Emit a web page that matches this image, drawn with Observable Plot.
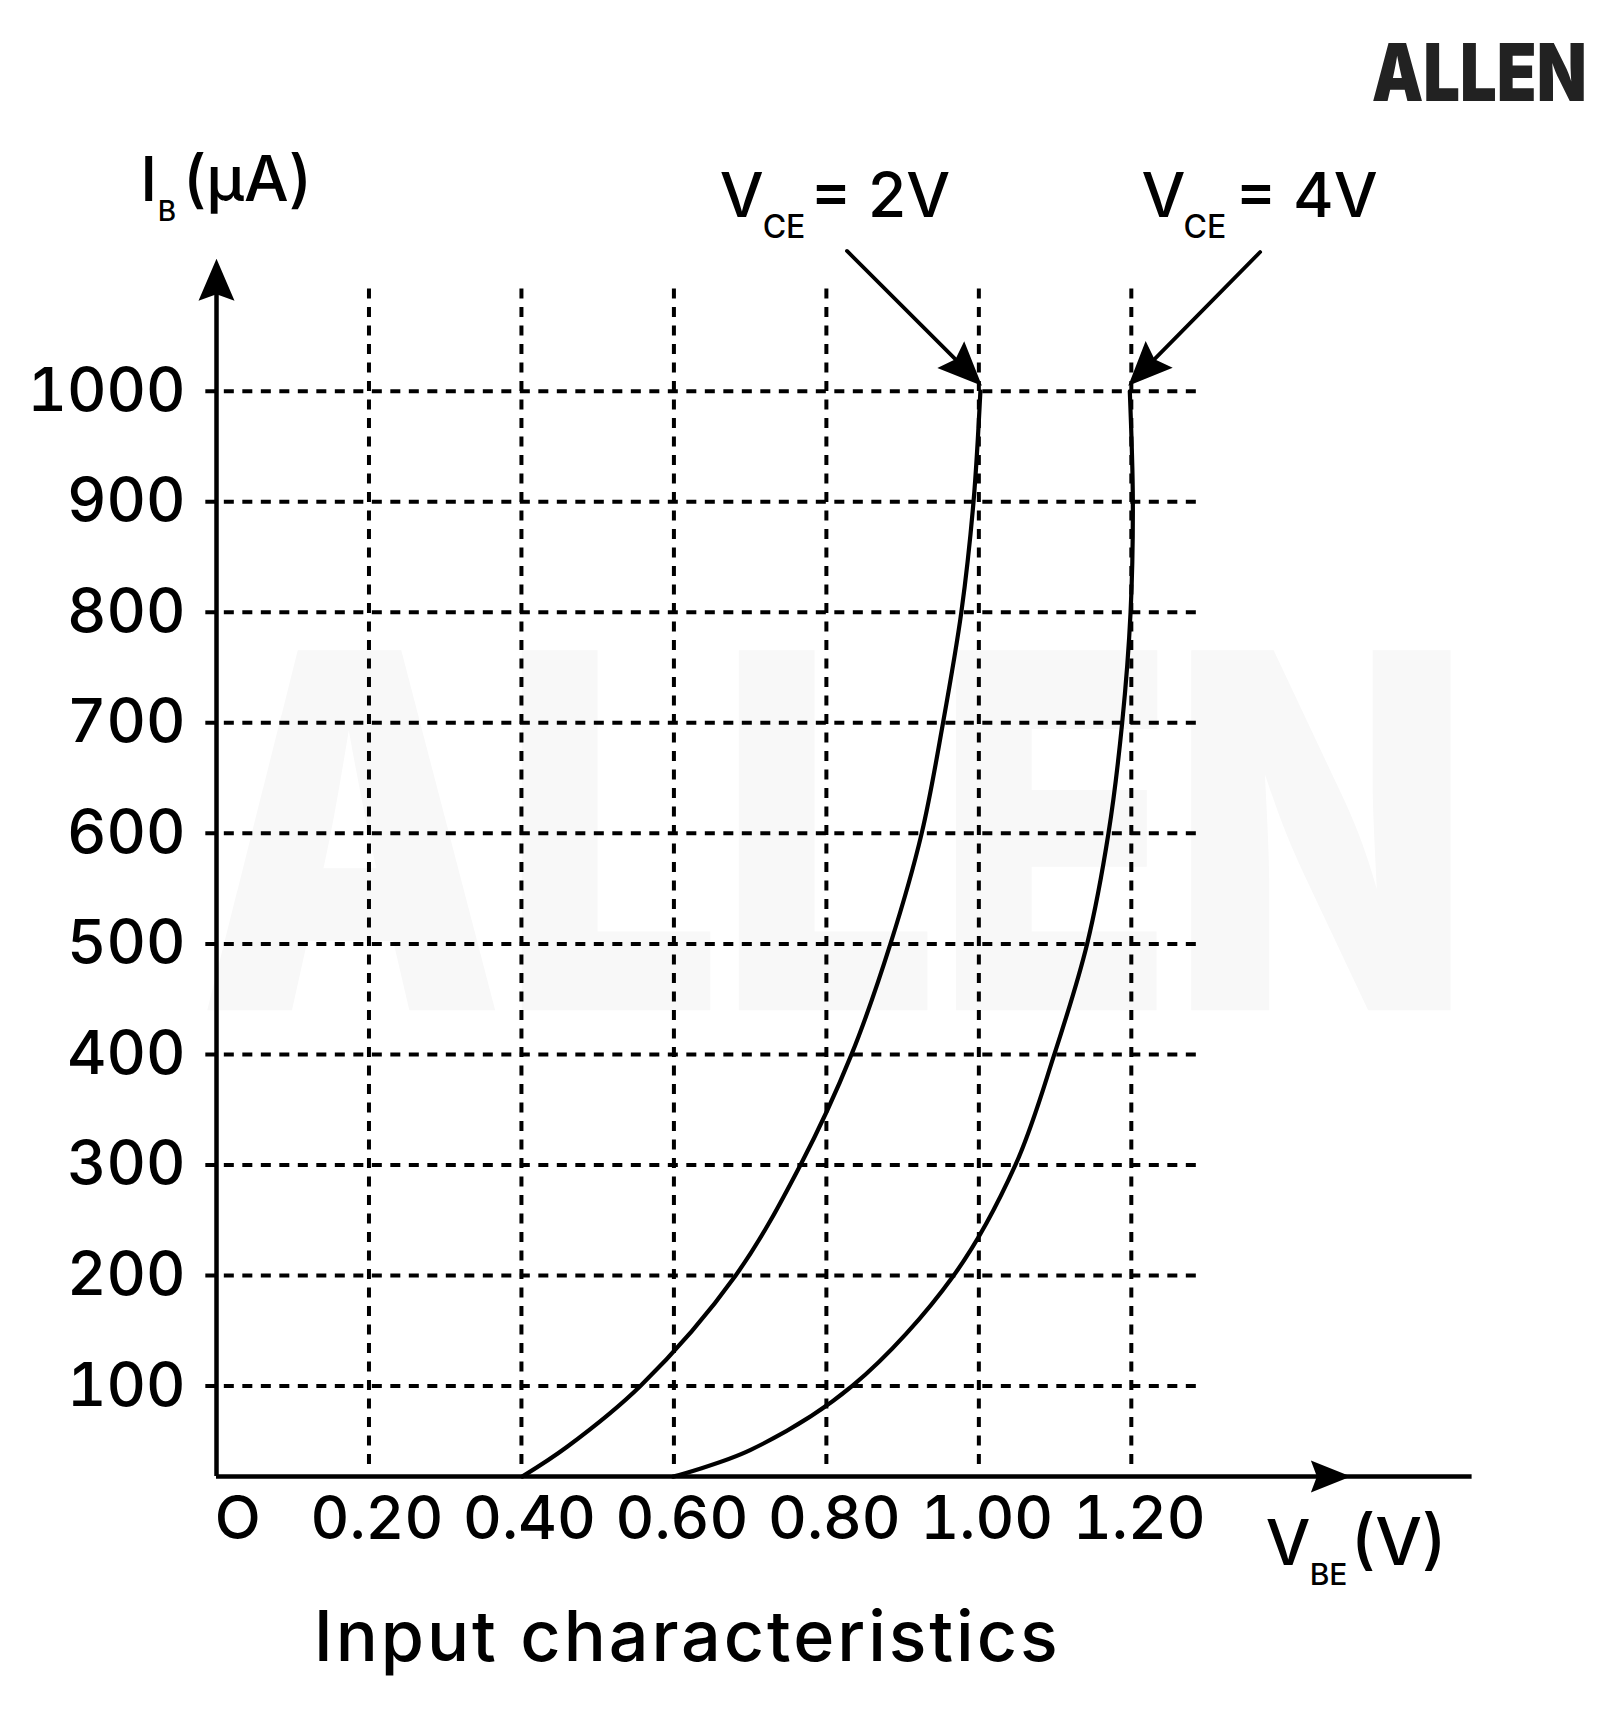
<!DOCTYPE html>
<html>
<head>
<meta charset="utf-8">
<script src="https://cdn.jsdelivr.net/npm/d3@7"></script>
<script src="https://cdn.jsdelivr.net/npm/@observablehq/plot@0.6"></script>
<style>
  html, body { margin: 0; padding: 0; background: #fff; }
  #chart svg { display: block; }
</style>
</head>
<body>
<div id="chart"></div>
<script>
// ---------- data ----------
const xTicks = [0.2, 0.4, 0.6, 0.8, 1.0, 1.2];               // V_BE (V)
const yTicks = [100, 200, 300, 400, 500, 600, 700, 800, 900, 1000]; // I_B (µA)

const seriesNames = ["VCE = 2V", "VCE = 4V"];
const vbe_2V = [0.401, 0.460, 0.556, 0.681, 0.766, 0.833, 0.884, 0.925, 0.953, 0.977, 0.993, 1.002];
const ib_2V  = [18,    45,    100,   200,   300,   400,   500,   600,   700,   800,   900,   1000];
const vbe_4V = [0.599, 0.700, 0.834, 0.967, 1.048, 1.099, 1.142, 1.170, 1.188, 1.199, 1.202, 1.198];
const ib_4V  = [18,    42,    100,   200,   300,   400,   500,   600,   700,   800,   900,   1000];

const arrowStartV = [0.827, 1.369];
const arrowStartI = [1127, 1126];
const arrowTipV   = [1.004, 1.196];
const arrowTipI   = [1005, 1005];

const axisBaseI = 18;   // level of the drawn V_BE axis

// ---------- build tables ----------
const curves = [
  ...vbe_2V.map((v, i) => ({series: seriesNames[0], v, ib: ib_2V[i]})),
  ...vbe_4V.map((v, i) => ({series: seriesNames[1], v, ib: ib_4V[i]}))
];

const W = 1620, H = 1713, ML = 216, MR = 108, MT = 225, MB = 217;
const X_DOMAIN = [0, 1.7], Y_DOMAIN = [0, 1150];
const sx = d3.scaleLinear(X_DOMAIN, [ML, W - MR]);
const sy = d3.scaleLinear(Y_DOMAIN, [H - MB, MT]);

const arrows = arrowStartV.map((_, k) => {
  const dx = sx(arrowTipV[k]) - sx(arrowStartV[k]);
  const dy = sy(arrowTipI[k]) - sy(arrowStartI[k]);
  return {
    v1: arrowStartV[k], i1: arrowStartI[k], v2: arrowTipV[k], i2: arrowTipI[k],
    rot: Math.atan2(dy, dx) * 180 / Math.PI + 90
  };
});

// filled arrowhead, tip at origin, pointing up
function head(L, Wd, notch = 0.85) {
  return {
    draw(ctx) {
      ctx.moveTo(0, 0);
      ctx.lineTo(Wd, L);
      ctx.lineTo(0, L * notch);
      ctx.lineTo(-Wd, L);
      ctx.closePath();
    }
  };
}

const INK = "#000";
const FONT = "Inter, 'Noto Sans', sans-serif";
const dash = "10,8.5";
const T = {textAnchor: "start", lineAnchor: "bottom", fontWeight: 500, text: d => d};

const WM_I = 440, LOGO_I = 1263;

const plot = Plot.plot({
  width: W,
  height: H,
  marginLeft: ML, marginRight: MR, marginTop: MT, marginBottom: MB,
  style: {fontFamily: FONT, background: "#fff", color: INK},
  x: {domain: X_DOMAIN, axis: null},
  y: {domain: Y_DOMAIN, axis: null},
  marks: [
    // faint watermark
    Plot.text(["ALLEN"], {...T, textAnchor: "middle", x: 0.8095, y: WM_I, fontSize: 372, fontWeight: 900, fill: "#f8f8f8"}),

    // dashed grid
    Plot.ruleX(xTicks, {y1: 29, y2: 1097, stroke: INK, strokeWidth: 4, strokeDasharray: dash}),
    Plot.ruleY(yTicks, {x1: -0.014, x2: 1.293, stroke: INK, strokeWidth: 4, strokeDasharray: dash}),

    // axes lines
    Plot.ruleY([axisBaseI], {x1: 0, x2: 1.647, stroke: INK, strokeWidth: 4.5}),
    Plot.ruleX([0], {y1: axisBaseI, y2: 1100, stroke: INK, strokeWidth: 4.5}),
    Plot.dot([{v: 0, i: 1120}], {x: "v", y: "i", r: 10, symbol: head(42, 18), rotate: 0, fill: INK, stroke: "none"}),
    Plot.dot([{v: 1.488, i: axisBaseI}], {x: "v", y: "i", r: 10, symbol: head(40, 16), rotate: 90, fill: INK, stroke: "none"}),

    // tick labels
    Plot.axisY({ticks: yTicks, tickFormat: d3.format("d"), tickSize: 0, tickPadding: 31, fontSize: 61, fontWeight: 500, label: null}),
    Plot.axisX({ticks: xTicks, tickFormat: d3.format(".2f"), tickSize: 0, tickPadding: 0, fontSize: 60, fontWeight: 500, dx: 8, label: null}),
    Plot.text(["O"], {x: 0.028, y: 0, text: d => d, lineAnchor: "top", fontSize: 60, fontWeight: 500}),

    // characteristic curves
    Plot.line(curves, {x: "v", y: "ib", z: "series", curve: "catmull-rom", stroke: INK, strokeWidth: 4.2}),

    // annotation arrows
    Plot.arrow(arrows, {x1: "v1", y1: "i1", x2: "v2", y2: "i2", headLength: 0, insetEnd: 16, stroke: INK, strokeWidth: 3.8}),
    Plot.dot(arrows, {x: "v2", y: "i2", r: 10, symbol: head(44, 19), rotate: "rot", fill: INK, stroke: "none"}),

    // I_B (µA)
    Plot.text(["I"], {...T, x: -0.1, y: 1172.6, fontSize: 62}),
    Plot.text(["B"], {...T, x: -0.077, y: 1154.5, fontSize: 28}),
    Plot.text(["(μA)"], {...T, x: -0.044, y: 1172.6, fontSize: 63}),

    // V_CE = 2V
    Plot.text(["V"], {...T, x: 0.66, y: 1157.3, fontSize: 62}),
    Plot.text(["CE"], {...T, x: 0.7164, y: 1138.3, fontSize: 32}),
    Plot.text(["= 2V"], {...T, x: 0.7787, y: 1157.3, fontSize: 62}),

    // V_CE = 4V
    Plot.text(["V"], {...T, x: 1.2135, y: 1157.3, fontSize: 62}),
    Plot.text(["CE"], {...T, x: 1.2686, y: 1138.3, fontSize: 32}),
    Plot.text(["= 4V"], {...T, x: 1.3362, y: 1157.3, fontSize: 62}),

    // V_BE (V)
    Plot.text(["V"], {...T, x: 1.3762, y: -62.4, fontSize: 63}),
    Plot.text(["BE"], {...T, x: 1.4339, y: -80.5, fontSize: 30}),
    Plot.text(["(V)"], {...T, x: 1.4880, y: -62.4, fontSize: 66}),

    // caption
    Plot.text(["Input characteristics"], {...T, x: 0.1275, y: -148.4, fontSize: 70}),

    // logo
    Plot.text(["ALLEN"], {...T, textAnchor: "end", x: 1.7973, y: LOGO_I, fontSize: 64, fontWeight: 900, fill: "#222"})
  ]
});

// fit a few texts to the extent they have in the picture
function fit(node, width, kY, baseY) {
  node.setAttribute("textLength", width);
  node.setAttribute("lengthAdjust", "spacingAndGlyphs");
  const g = document.createElementNS("http://www.w3.org/2000/svg", "g");
  g.setAttribute("transform", `translate(0,${baseY}) scale(1,${kY}) translate(0,${-baseY})`);
  node.parentNode.insertBefore(g, node);
  g.appendChild(node);
}
const texts = d3.select(plot).selectAll("text");
const allen = texts.filter(function() { return this.textContent === "ALLEN"; }).nodes();
if (allen[0]) fit(allen[0], 1270, 1.33, sy(WM_I));
if (allen[1]) fit(allen[1], 215, 1.25, sy(LOGO_I));
texts.filter(function() { return this.textContent === "Input characteristics"; })
  .attr("textLength", 744).attr("lengthAdjust", "spacing");

document.getElementById("chart").append(plot);
</script>
</body>
</html>
